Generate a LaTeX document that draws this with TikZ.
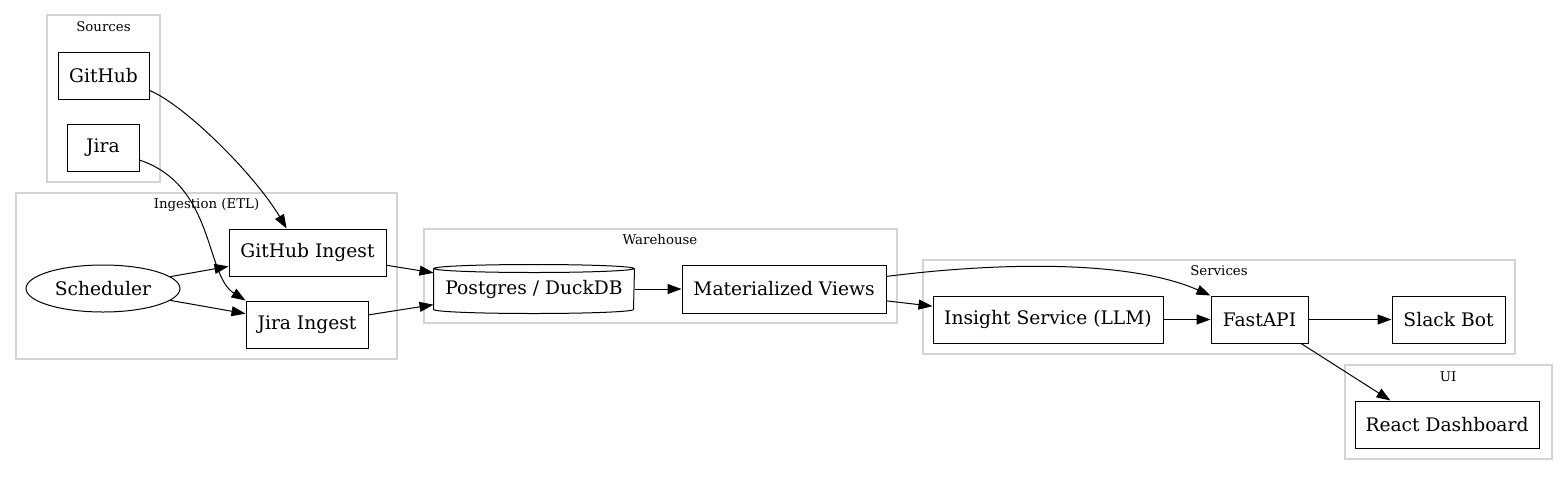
\documentclass[tikz,border=0pt]{standalone}
\usepackage{fontspec}
\setmainfont{DejaVu Serif}
\usetikzlibrary{arrows.meta,shapes.geometric}

\begin{document}
\begin{tikzpicture}[x=0.75pt, y=-0.75pt,
    block/.style={draw, line width=0.75pt, inner sep=0pt, minimum height=35.25pt, font=\fontsize{14}{16}\selectfont},
    cluster/.style={draw=black!17, line width=0.8pt},
    clusterlabel/.style={font=\fontsize{10}{12}\selectfont},
    flow/.style={-{Triangle[length=10.5pt,width=7.5pt]}, line width=0.75pt}]
    \useasboundingbox (0,0) rectangle (1568,476);

    % Sources cluster
    \draw[cluster] (47,15) rectangle (160,182);
    \node[clusterlabel] (srclabel) at (103.5,27) {Sources};
    \node[block, minimum width=68.25pt] (github) at (103.5,75.5) {GitHub};
    \node[block, minimum width=54pt] (jira) at (103,147.5) {Jira};

    % Ingestion cluster
    \draw[cluster] (16,193) rectangle (397,359);
    \node[clusterlabel] (etllabel) at (206.5,205) {Ingestion (ETL)};
    \node[block, ellipse, minimum width=115.5pt] (sched) at (103,288.5) {Scheduler};
    \node[block, minimum width=117.75pt] (ghingest) at (307.5,252.5) {GitHub Ingest};
    \node[block, minimum width=91.5pt] (jiraingest) at (307,324.5) {Jira Ingest};

    % Warehouse cluster
    \draw[cluster] (424,229) rectangle (897,323);
    \node[clusterlabel] (whlabel) at (660,240) {Warehouse};
    \node[block, draw=none, minimum width=150pt, minimum height=36pt] (db) at (534,289) {Postgres / DuckDB};
    \draw[line width=0.75pt] ([yshift=-3pt]db.north west) -- ([yshift=3pt]db.south west)
        arc[start angle=180, end angle=360, x radius=75pt, y radius=3pt] -- ([yshift=-3pt]db.north east);
    \draw[line width=0.75pt] ([yshift=-3pt]db.north) ellipse[x radius=75pt, y radius=3pt];
    \node[block, minimum width=153pt, minimum height=36pt] (mviews) at (784,289) {Materialized Views};

    % Services cluster
    \draw[cluster] (923,260) rectangle (1515,354);
    \node[clusterlabel] (svclabel) at (1219,271) {Services};
    \node[block, minimum width=172.5pt] (insight) at (1048,319.5) {Insight Service (LLM)};
    \node[block, minimum width=72.75pt] (fastapi) at (1259.5,319.5) {FastAPI};
    \node[block, minimum width=84.75pt] (slack) at (1448.5,319.5) {Slack Bot};

    % UI cluster
    \draw[cluster] (1345,365) rectangle (1552,459);
    \node[clusterlabel] (uilabel) at (1448,377) {UI};
    \node[block, minimum width=138pt] (react) at (1447,424.5) {React Dashboard};

    % Edges
    \draw[flow] (github.-18) .. controls (185,105) and (255,175) .. (ghingest.131);
    \draw[flow] (jira.-19) .. controls (215,185) and (205,275) .. (jiraingest.north west);
    \draw[flow] (sched) -- (ghingest);
    \draw[flow] (sched) -- (jiraingest);
    \draw[flow] (ghingest) -- (db);
    \draw[flow] (jiraingest) -- (db);
    \draw[flow] (db) -- (mviews);
    \draw[flow] (mviews) -- (insight);
    \draw[flow] (mviews.7) .. controls (1000,262) and (1130,260) .. (fastapi.north west);
    \draw[flow] (insight) -- (fastapi);
    \draw[flow] (fastapi) -- (slack);
    \draw[flow] (fastapi.-30) -- (react.157);

\end{tikzpicture}
\end{document}
